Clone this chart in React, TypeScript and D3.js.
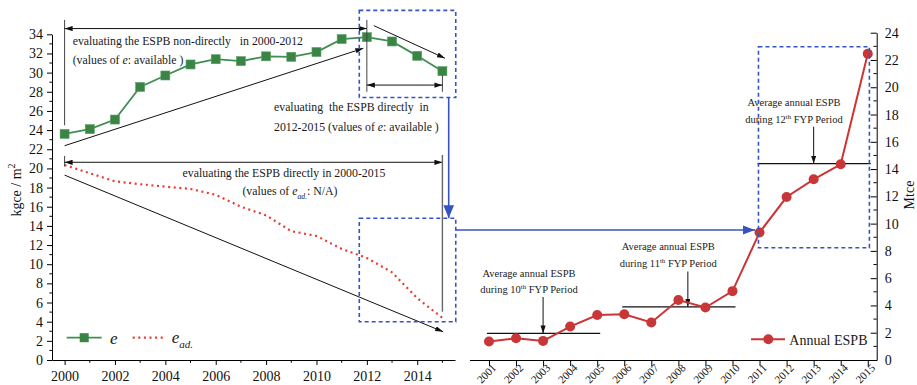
import React, { useEffect, useRef } from 'react'
import * as d3 from 'd3'

const FONT = "'Liberation Serif', 'Times New Roman', serif"

// left panel: energy intensity (kgce / m2)
const eYears = [2000, 2001, 2002, 2003, 2004, 2005, 2006, 2007, 2008, 2009, 2010, 2011, 2012, 2013, 2014, 2015]
const eValues = [23.6, 24.1, 25.1, 28.5, 29.7, 30.85, 31.4, 31.2, 31.7, 31.65, 32.15, 33.5, 33.7, 33.25, 31.75, 30.15]
const eAdValues = [20.35, 19.5, 18.65, 18.35, 18.1, 17.85, 17.25, 16.0, 15.1, 13.45, 12.95, 11.6, 10.65, 9.15, 6.45, 4.4]
const leftXTicks = [2000, 2002, 2004, 2006, 2008, 2010, 2012, 2014]
const leftXMinor = [2001, 2003, 2005, 2007, 2009, 2011, 2013, 2015]
const leftYTicks = [0, 2, 4, 6, 8, 10, 12, 14, 16, 18, 20, 22, 24, 26, 28, 30, 32, 34]

// right panel: annual ESPB (Mtce)
const espbYears = [2001, 2002, 2003, 2004, 2005, 2006, 2007, 2008, 2009, 2010, 2011, 2012, 2013, 2014, 2015]
const espbValues = [1.35, 1.6, 1.4, 2.45, 3.3, 3.35, 2.75, 4.4, 3.85, 5.05, 9.35, 11.95, 13.25, 14.35, 22.45]
const rightYTicks = [0, 2, 4, 6, 8, 10, 12, 14, 16, 18, 20, 22, 24]

// five-year-plan averages
const fypNames = ['10', '11', '12']
const fypStart = [2001, 2006, 2011]
const fypEnd = [2005, 2010, 2015]
const fypAvg = [1.95, 3.9, 14.4]
const fypArrowYear = [2003, 2008.35, 2013]

type Part = { t: string; i?: boolean; sub?: boolean; sup?: boolean }

function richText(parent: any, x: number, y: number, parts: Part[], size: number, anchor = 'start') {
  const t = parent.append('text').attr('x', x).attr('y', y).attr('font-size', size)
    .attr('text-anchor', anchor).attr('font-family', FONT).attr('fill', '#1a1a1a')
    .style('white-space', 'pre')
  let shift = 0
  parts.forEach(p => {
    const s = t.append('tspan').text(p.t)
    const target = p.sub ? size * 0.3 : p.sup ? -size * 0.4 : 0
    if (target - shift !== 0) s.attr('dy', target - shift)
    shift = target
    if (p.i) s.attr('font-style', 'italic')
    if (p.sub || p.sup) s.attr('font-size', size * 0.65)
  })
  return t
}

export default function App() {
  const ref = useRef<SVGSVGElement>(null)

  useEffect(() => {
    const svg = d3.select(ref.current)
    svg.selectAll('*').remove()

    const defs = svg.append('defs')
    const mk = (id: string, len: number, hw: number, color: string) =>
      defs.append('marker').attr('id', id).attr('markerUnits', 'userSpaceOnUse')
        .attr('viewBox', `0 ${-hw} ${len} ${hw * 2}`).attr('refX', len).attr('refY', 0)
        .attr('markerWidth', len).attr('markerHeight', hw * 2).attr('orient', 'auto-start-reverse')
        .append('path').attr('d', `M0,${-hw}L${len},0L0,${hw}Z`).attr('fill', color)
    mk('ah', 8, 2.6, '#111')
    mk('bh', 13, 5.3, '#3553c2')
    mk('bh2', 12, 4.6, '#3553c2')

    // ---------- left panel ----------
    const xL = d3.scaleLinear().domain([1999.5, 2015.5]).range([52, 455])
    const yL = d3.scaleLinear().domain([0, 34]).range([360, 34.3])

    const gxL = svg.append('g').attr('transform', 'translate(0,360)')
      .call(d3.axisBottom(xL).tickValues(leftXTicks).tickFormat(d3.format('d')).tickSize(5).tickSizeOuter(0).tickPadding(6))
    gxL.attr('font-family', FONT).attr('font-size', 14)
    gxL.selectAll('.tick text').attr('fill', '#111')
    gxL.selectAll('.minor').data(leftXMinor).join('line').attr('class', 'minor')
      .attr('x1', d => xL(d)).attr('x2', d => xL(d)).attr('y1', 0).attr('y2', 2.8).attr('stroke', '#000')

    const gyL = svg.append('g').attr('transform', 'translate(52,0)')
      .call(d3.axisLeft(yL).tickValues(leftYTicks).tickSize(5).tickSizeOuter(0).tickPadding(4))
    gyL.attr('font-family', FONT).attr('font-size', 14)
    gyL.selectAll('.tick text').attr('fill', '#111')
    gyL.selectAll('.minor').data(leftYTicks.slice(0, -1)).join('line').attr('class', 'minor')
      .attr('y1', d => yL(d + 1)).attr('y2', d => yL(d + 1)).attr('x1', 0).attr('x2', -2.6).attr('stroke', '#000')

    svg.append('text').attr('transform', 'translate(21,190) rotate(-90)').attr('text-anchor', 'middle')
      .attr('font-family', FONT).attr('font-size', 14).attr('fill', '#111')
      .call(t => { t.append('tspan').text('kgce / m'); t.append('tspan').attr('dy', -6).attr('font-size', 10).text('2') })

    // e_ad dotted
    const lineL = d3.line<number>().x((_, i) => xL(eYears[i])).y(d => yL(d))
    svg.append('path').attr('d', lineL(eAdValues)).attr('fill', 'none').attr('stroke', '#ee3a2e')
      .attr('stroke-width', 2.2).attr('stroke-dasharray', '2 3.6')

    // e line
    svg.append('path').attr('d', lineL(eValues)).attr('fill', 'none').attr('stroke', '#3f8f50').attr('stroke-width', 1.8)
    svg.selectAll('.esq').data(eValues).join('rect').attr('class', 'esq')
      .attr('x', (_, i) => xL(eYears[i]) - 4.5).attr('y', d => yL(d) - 4.5).attr('width', 9).attr('height', 9)
      .attr('fill', '#3a8446').attr('stroke', '#5a9f66').attr('stroke-width', 0.6)

    // black annotations (left)
    const ann = svg.append('g').attr('stroke', '#111').attr('stroke-width', 1).attr('fill', 'none')
    const seg = (x1: number, y1: number, x2: number, y2: number, start?: string, end?: string, col?: string) => {
      const l = ann.append('line').attr('x1', x1).attr('y1', y1).attr('x2', x2).attr('y2', y2)
      if (start) l.attr('marker-start', `url(#${start})`)
      if (end) l.attr('marker-end', `url(#${end})`)
      if (col) l.attr('stroke', col)
      return l
    }
    seg(xL(2000), yL(35.5), xL(2000), yL(24.5), undefined, undefined, '#444')
    seg(xL(2000), yL(34.6), xL(2012), yL(34.6), 'ah', 'ah')
    seg(xL(2012), yL(35.5), xL(2012), yL(28.0), undefined, undefined, '#444')
    seg(xL(2000), yL(22.37), xL(2011.86), yL(32.54), undefined, 'ah')
    seg(xL(2012.28), yL(34.9), xL(2015.1), yL(31.5), undefined, 'ah')
    seg(xL(2015), yL(29.75), xL(2015), yL(28.0), undefined, undefined, '#444')
    seg(xL(2012), yL(28.7), xL(2015), yL(28.7), 'ah', 'ah')
    seg(xL(2000), yL(21.3), xL(2000), yL(20.2), undefined, undefined, '#444')
    seg(xL(2000), yL(20.64), xL(2015), yL(20.64), 'ah', 'ah')
    seg(xL(2015), yL(21.4), xL(2015), yL(5.04), undefined, undefined, '#666').attr('stroke-width', 1.4)
    seg(xL(2000), yL(19.3), xL(2015.03), yL(2.95), undefined, 'ah')

    richText(svg, 72.7, 45, [{ t: 'evaluating the ESPB non-directly   in 2000-2012' }], 11.8)
    richText(svg, 72.7, 64, [{ t: '(values of ' }, { t: 'e', i: true }, { t: ': available )' }], 11.8)
    richText(svg, 274, 111, [{ t: 'evaluating  the ESPB directly  in' }], 11.8)
    richText(svg, 274, 130.5, [{ t: '2012-2015 (values of ' }, { t: 'e', i: true }, { t: ': available )' }], 11.8)
    richText(svg, 284, 176.7, [{ t: 'evaluating the ESPB directly in 2000-2015' }], 11.8, 'middle')
    richText(svg, 290, 195, [{ t: '(values of ' }, { t: 'e', i: true }, { t: 'ad.', i: true, sub: true }, { t: ': N/A)' }], 11.8, 'middle')

    // legend left
    svg.append('line').attr('x1', 66.7).attr('x2', 101.7).attr('y1', 337.7).attr('y2', 337.7).attr('stroke', '#3f8f50').attr('stroke-width', 1.8)
    svg.append('rect').attr('x', 79.7).attr('y', 333.2).attr('width', 9).attr('height', 9).attr('fill', '#3a8446')
    richText(svg, 110, 344, [{ t: 'e', i: true }], 17)
    svg.append('line').attr('x1', 132.7).attr('x2', 165).attr('y1', 337.7).attr('y2', 337.7).attr('stroke', '#ee3a2e')
      .attr('stroke-width', 2.2).attr('stroke-dasharray', '2 3.6')
    richText(svg, 171.7, 343.3, [{ t: 'e', i: true }, { t: 'ad.', i: true, sub: true }], 17)

    // ---------- right panel ----------
    const xR = d3.scaleLinear().domain([2000.28, 2015.33]).range([469.5, 876.7])
    const yR = d3.scaleLinear().domain([0, 24]).range([360, 32.7])

    const gxR = svg.append('g').attr('transform', 'translate(0,360)')
      .call(d3.axisBottom(xR).tickValues(espbYears).tickFormat(d3.format('d')).tickSize(6).tickSizeOuter(0))
    gxR.attr('font-family', FONT).attr('font-size', 11)
    gxR.selectAll('.tick text').attr('fill', '#111').attr('y', 0).attr('dy', 0)
      .attr('text-anchor', 'end').attr('transform', 'translate(7.5,8.5) rotate(-45)')

    const gyR = svg.append('g').attr('transform', 'translate(876.7,0)')
      .call(d3.axisRight(yR).tickValues(rightYTicks).tickSizeInner(-6).tickSizeOuter(0).tickPadding(8))
    gyR.attr('font-family', FONT).attr('font-size', 14)
    gyR.selectAll('.tick text').attr('fill', '#111')
    gyR.selectAll('.minor').data(rightYTicks.slice(0, -1)).join('line').attr('class', 'minor')
      .attr('y1', d => yR(d + 1)).attr('y2', d => yR(d + 1)).attr('x1', 0).attr('x2', -3.2).attr('stroke', '#000')

    svg.append('text').attr('transform', 'translate(914,195) rotate(-90)').attr('text-anchor', 'middle')
      .attr('font-family', FONT).attr('font-size', 14).attr('fill', '#111').text('Mtce')

    // FYP average lines
    fypNames.forEach((n, i) => {
      svg.append('line').attr('x1', xR(fypStart[i]) - 2).attr('x2', xR(fypEnd[i]) + 3)
        .attr('y1', yR(fypAvg[i])).attr('y2', yR(fypAvg[i])).attr('stroke', '#111').attr('stroke-width', 1.3)
    })
    const fypText = [[529, 276.5, 293], [668.3, 250, 267], [794, 106, 123.3]]
    const fypArrowTop = [297, 271.5, 126.7]
    fypNames.forEach((n, i) => {
      const [cx, y1, y2] = fypText[i]
      richText(svg, cx, y1, [{ t: 'Average annual ESPB' }], 10.5, 'middle')
      richText(svg, cx, y2, [{ t: `during ${n}` }, { t: 'th', sup: true }, { t: ' FYP Period' }], 10.5, 'middle')
      seg(xR(fypArrowYear[i]), fypArrowTop[i], xR(fypArrowYear[i]), yR(fypAvg[i]), undefined, 'ah')
    })

    // ESPB line
    const lineR = d3.line<number>().x((_, i) => xR(espbYears[i])).y(d => yR(d))
    svg.append('path').attr('d', lineR(espbValues)).attr('fill', 'none').attr('stroke', '#cc3535').attr('stroke-width', 2)
    svg.selectAll('.ec').data(espbValues).join('circle').attr('class', 'ec')
      .attr('cx', (_, i) => xR(espbYears[i])).attr('cy', d => yR(d)).attr('r', 5).attr('fill', '#c93637')

    // legend right
    svg.append('line').attr('x1', 751).attr('x2', 785).attr('y1', 339.3).attr('y2', 339.3).attr('stroke', '#cc3535').attr('stroke-width', 2)
    svg.append('circle').attr('cx', 768.3).attr('cy', 339.3).attr('r', 5).attr('fill', '#c93637')
    richText(svg, 789.3, 344.5, [{ t: 'Annual ESPB' }], 14)

    // ---------- blue boxes & arrows ----------
    const blue = svg.append('g').attr('fill', 'none').attr('stroke', '#3553c2').attr('stroke-width', 1.6)
    const box = (x1: number, y1: number, x2: number, y2: number) =>
      blue.append('rect').attr('x', x1).attr('y', y1).attr('width', x2 - x1).attr('height', y2 - y1).attr('stroke-dasharray', '4 3')
    box(xL(2011.7), yL(36.5), xL(2015.53), yL(27.4))
    box(xL(2011.7), yL(14.8), xL(2015.53), yL(4.0))
    box(xR(2010.96), yR(22.97), xR(2015.06), yR(8.23))
    blue.append('line').attr('x1', xL(2015.25)).attr('x2', xL(2015.25)).attr('y1', yL(27.4)).attr('y2', yL(14.8))
      .attr('marker-end', 'url(#bh)')
    blue.append('line').attr('x1', xL(2015.53)).attr('x2', xR(2010.83)).attr('y1', yR(9.53)).attr('y2', yR(9.53))
      .attr('marker-end', 'url(#bh2)')
  }, [])

  return (
    <div style={{ position: 'absolute', left: 0, top: 0 }}>
      <svg ref={ref} width={917} height={385} style={{ display: 'block', background: '#fff' }} />
    </div>
  )
}
